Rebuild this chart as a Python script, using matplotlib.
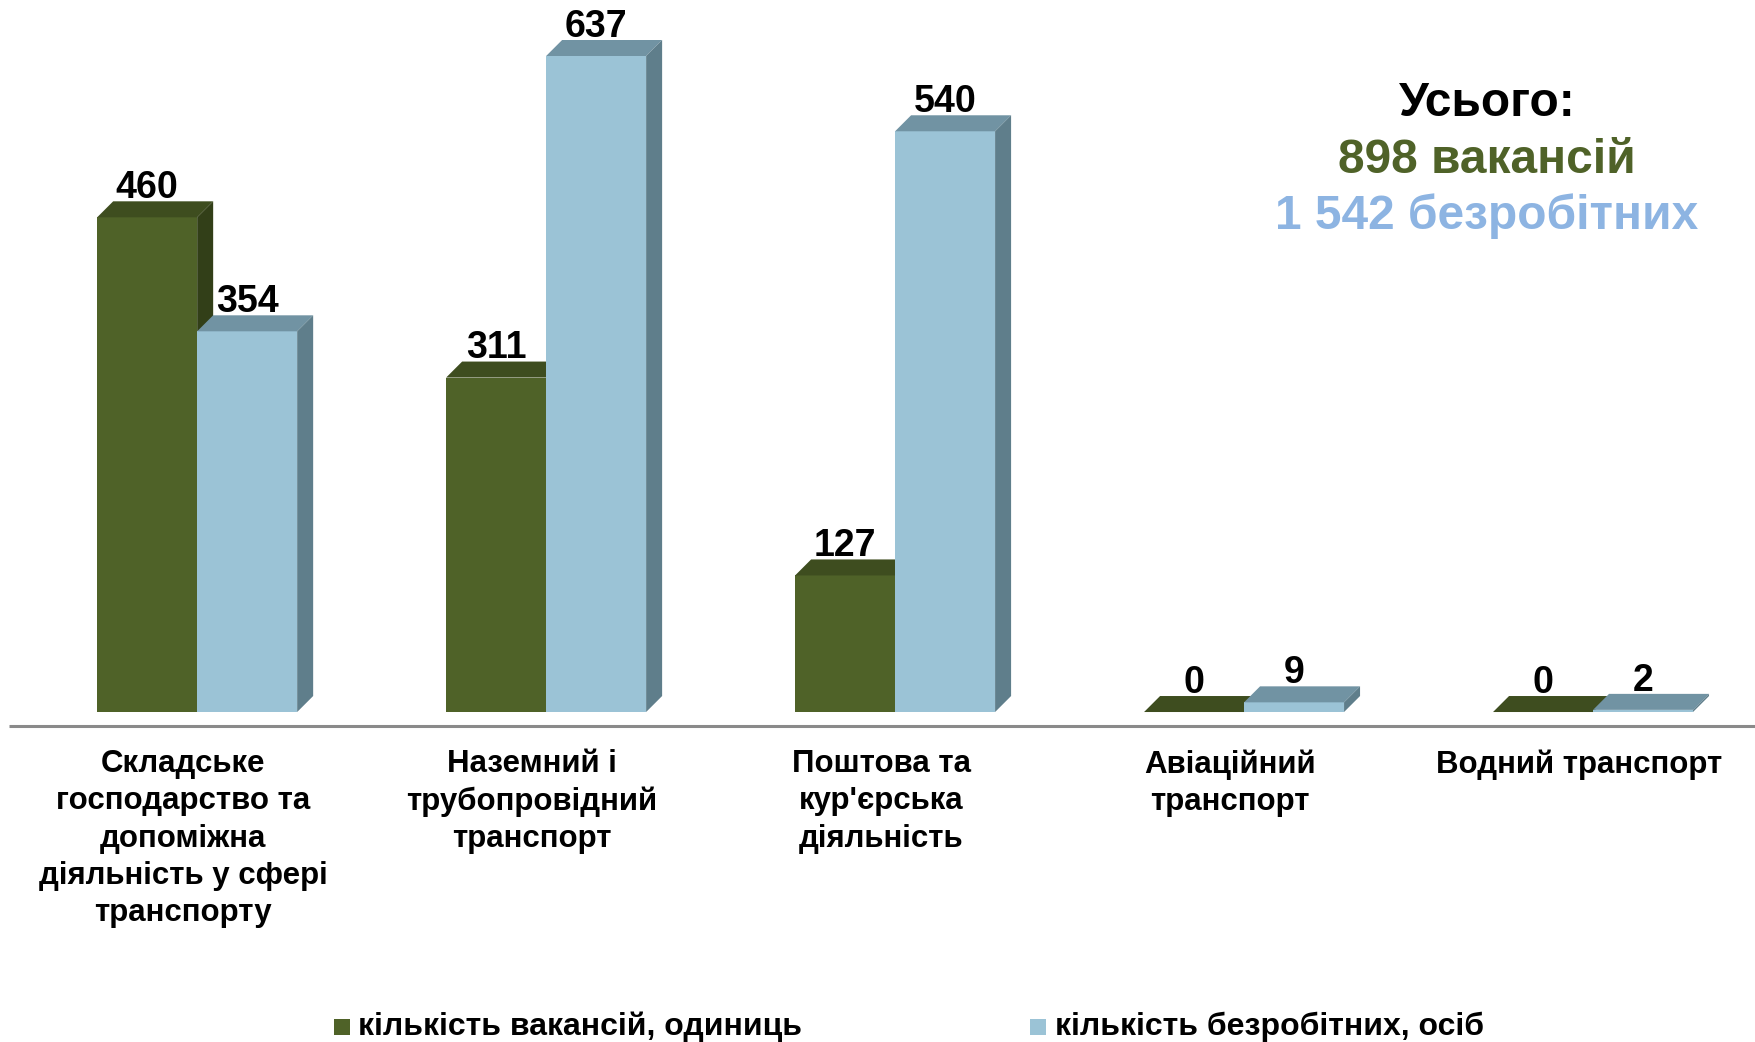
import numpy as np
import matplotlib
matplotlib.use("Agg")
import matplotlib.pyplot as plt
from matplotlib.patches import Polygon

plt.rcParams['font.family'] = ['Liberation Sans', 'DejaVu Sans']

categories = ["Складське\nгосподарство та\nдопоміжна\nдіяльність у сфері\nтранспорту",
              "Наземний і\nтрубопровідний\nтранспорт",
              "Поштова та\nкур'єрська\nдіяльність",
              "Авіаційний\nтранспорт",
              "Водний транспорт"]
vacancies = [460, 311, 127, 0, 0]
unemployed = [354, 637, 540, 9, 2]
series_names = ["кількість вакансій, одиниць", "кількість безробітних, осіб"]
total_title = "Усього:"
total_vac = "898 вакансій"
total_unemp = "1 542 безробітних"

W, H = 1756, 1042
fig = plt.figure(figsize=(W / 100, H / 100), dpi=100)

# axes placed in pixel terms: floor line at y=726px, top of plot at y=56px
ax = fig.add_axes([0, (H - 726) / H, 1, (726 - 56) / H])
ymin, ymax = -13, 610
ax.set_ylim(ymin, ymax)
ax.set_xlim(-0.565, 4.467)
ax.axis('off')

px_x = 349.0            # pixels per category
px_y = 670.0 / (ymax - ymin)
dx = 16 / px_x
dy = 16 / px_y
bw = 100 / px_x

green = ("#4F6228", "#3E4D1F", "#323F18")
blue = ("#9BC3D6", "#7193A3", "#5F7E8B")


def box(x0, h, cols):
    x1 = x0 + bw
    hd = min(h, ymax)
    if hd > 0:
        ax.add_patch(plt.Rectangle((x0, 0), bw, hd, facecolor=cols[0], edgecolor='none', clip_on=False))
    ax.add_patch(Polygon([(x0, hd), (x0 + dx, hd + dy), (x1 + dx, hd + dy), (x1, hd)],
                         closed=True, facecolor=cols[1], edgecolor='none', clip_on=False))
    ax.add_patch(Polygon([(x1, 0), (x1 + dx, dy), (x1 + dx, hd + dy), (x1, hd)],
                         closed=True, facecolor=cols[2], edgecolor='none', clip_on=False))
    ax.text(x0 + bw / 2, hd + dy - 4.5, str(h), ha='center', va='bottom',
            fontsize=27, fontweight='bold', color='black', clip_on=False)


x = np.arange(len(categories))
for i in range(len(categories)):
    box(x[i] - bw, vacancies[i], green)
    box(x[i], unemployed[i], blue)

# floor line
ax.plot([-0.54, 4.467], [ymin, ymin], color='#8A8A8A', lw=2.2, clip_on=False, solid_capstyle='butt')

for i, c in enumerate(categories):
    ax.text(x[i] - 0.04, ymin - 23 / px_y, c, ha='center', va='top', fontsize=22.5,
            fontweight='bold', linespacing=1.32, clip_on=False)

# totals block
fig.text(1487 / W, 1 - 103.5 / H, total_title, ha='center', va='center', fontsize=34.5, fontweight='bold', color='black')
fig.text(1487 / W, 1 - 160.5 / H, total_vac, ha='center', va='center', fontsize=34.5, fontweight='bold', color='#4F6228')
fig.text(1487 / W, 1 - 216.5 / H, total_unemp, ha='center', va='center', fontsize=34.5, fontweight='bold', color='#8DB4E2')

# legend
leg_y = 1 - 1027 / H
fig.patches.append(plt.Rectangle((334 / W, leg_y - 8 / H), 16 / W, 16 / H, transform=fig.transFigure,
                                 facecolor=green[0], edgecolor='none'))
fig.text(358 / W, leg_y, series_names[0], ha='left', va='center', fontsize=23, fontweight='bold')
fig.patches.append(plt.Rectangle((1030 / W, leg_y - 8 / H), 16 / W, 16 / H, transform=fig.transFigure,
                                 facecolor=blue[0], edgecolor='none'))
fig.text(1055 / W, leg_y, series_names[1], ha='left', va='center', fontsize=23, fontweight='bold')

fig.savefig("out.png", dpi=100, facecolor='white')
